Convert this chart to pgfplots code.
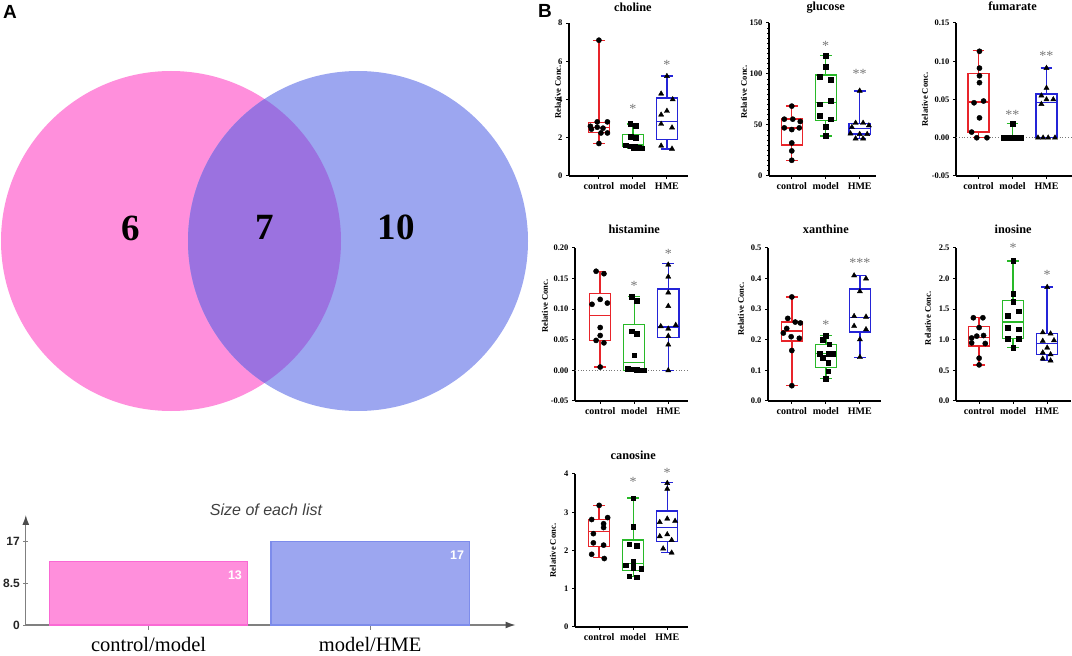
\documentclass[border=0pt]{standalone}
\usepackage{fontspec}
\setmainfont{Liberation Serif}
\newfontfamily\arial{Liberation Sans}
\usepackage{pgfplots}
\pgfplotsset{compat=1.18}
\usepgfplotslibrary{statistics}
\usetikzlibrary{arrows.meta}

\definecolor{pinkV}{RGB}{255,143,220}
\definecolor{blueV}{RGB}{156,166,240}
\definecolor{overV}{RGB}{155,114,224}
\definecolor{pinkE}{RGB}{250,105,212}
\definecolor{blueE}{RGB}{125,140,235}
\definecolor{redB}{RGB}{232,36,42}
\definecolor{greenB}{RGB}{40,185,40}
\definecolor{blueB}{RGB}{36,36,215}
\definecolor{starC}{RGB}{120,120,120}

\pgfplotsset{
  bx/.style={
    scale only axis, height=153pt, anchor=south west,
    axis x line=bottom, axis y line=left,
    axis line style={-, line width=1.1pt},
    tick style={black, line width=1pt},
    tick align=outside, major tick length=3pt,
    xtick={1,2,3}, xticklabels={control,model,HME},
    x tick label style={font=\fontsize{10}{10}\selectfont\bfseries},
    y tick label style={font=\fontsize{8.5}{8.5}\selectfont\bfseries},
    every axis title/.style={at={(0.5,1)}, anchor=base, font=\fontsize{12.3}{12.3}\selectfont\bfseries},
    clip=false, enlargelimits=false,
    boxplot/draw direction=y,
    boxplot/box extend=0.62, boxplot/whisker extend=0.35,
  },
  ptC/.style={only marks, mark=*, mark size=2.6pt, black},
  ptS/.style={only marks, mark=square*, mark size=2.3pt, black},
  ptT/.style={only marks, mark=triangle*, mark size=3pt, black},
}
% colour, position, lower whisker, lower quartile, median, upper quartile, upper whisker
\newcommand{\bp}[7]{\addplot[#1, line width=1.4pt, boxplot prepared={draw position=#2,
  lower whisker=#3, lower quartile=#4, median=#5, upper quartile=#6, upper whisker=#7}] coordinates {};}
\newcommand{\st}[3]{\node[font=\fontsize{14}{14}\selectfont, text=starC, inner sep=0pt] at (axis cs:#1,#2) {#3};}
% y axis title: distance left of the axis line, relative height
\newcommand{\yl}[2]{\node[rotate=90, inner sep=0pt, font=\fontsize{8.6}{8.6}\selectfont\bfseries]
  at ([xshift=-#1]rel axis cs:0,#2) {Relative Conc.};}

\begin{document}
\begin{tikzpicture}
\path[use as bounding box] (0,0) rectangle (1072pt,656pt);

% ---------------- panel A: Venn diagram
\node[font=\arial\bfseries\fontsize{19}{19}\selectfont] at (10pt,644pt) {A};
\begin{axis}[at={(0pt,196pt)}, anchor=south west, scale only axis,
  width=540pt, height=460pt, xmin=0, xmax=540, ymin=0, ymax=460,
  y dir=reverse, hide axis, clip=false]
  \fill[pinkV] (axis cs:171,241) circle[radius=170pt];
  \fill[blueV] (axis cs:358,241) circle[radius=170pt];
  \begin{scope}
    \clip (axis cs:171,241) circle[radius=170pt];
    \fill[overV] (axis cs:358,241) circle[radius=170pt];
  \end{scope}
  \node[font=\fontsize{37}{37}\selectfont\bfseries] at (axis cs:131,228) {6};
  \node[font=\fontsize{37}{37}\selectfont\bfseries] at (axis cs:265,227) {7};
  \node[font=\fontsize{37}{37}\selectfont\bfseries] at (axis cs:396,227) {10};
\end{axis}

% ---------------- panel A: list sizes
\node[font=\arial\itshape\fontsize{16}{16}\selectfont, text=black!75] at (266pt,146pt) {Size of each list};
\begin{axis}[at={(25.8pt,31pt)}, anchor=south west, scale only axis,
  width=489.7pt, height=110pt,
  xmin=25.8, xmax=515.5, ymin=0, ymax=22.4,
  axis x line=bottom, axis y line=left,
  axis line style={draw=gray, line width=1.3pt, -{Latex[length=10pt,width=7pt,color=black!70]}},
  xtick={148.6,370.2}, xticklabels={control/model,model/HME},
  ytick={0,8.5,17}, yticklabels={0,8.5,17},
  tick style={draw=gray, line width=0.8pt}, major tick length=5pt, tick align=center,
  x tick label style={font=\fontsize{20.5}{20.5}\selectfont, yshift=-4pt},
  y tick label style={font=\arial\bfseries\fontsize{12}{12}\selectfont, text=black!85},
  ybar, bar width=198.5pt, clip=false]
  \addplot[fill=pinkV, draw=pinkE, line width=1.2pt, bar shift=0pt] coordinates {(148.6,13)};
  \addplot[fill=blueV, draw=blueE, line width=1.2pt, bar shift=0pt] coordinates {(370.2,17)};
  \node[font=\arial\bfseries\fontsize{12.5}{12.5}\selectfont, text=white] at (axis cs:235,10.2) {13};
  \node[font=\arial\bfseries\fontsize{12.5}{12.5}\selectfont, text=white] at (axis cs:457,14.3) {17};
\end{axis}

% ---------------- panel B
\node[font=\arial\bfseries\fontsize{19}{19}\selectfont] at (545pt,645pt) {B};

% choline
\begin{axis}[bx, at={(569pt,480pt)}, width=119pt, xmin=0.12, xmax=3.62,
  ymin=0, ymax=8, ytick={0,2,4,6,8}, yticklabels={0,2,4,6,8},
  title={choline}, title style={at={(0.537,1)}, yshift=12pt}]
  \bp{redB}{1}{1.7}{2.28}{2.53}{2.8}{7.1}
  \bp{greenB}{2}{1.44}{1.55}{1.62}{2.18}{2.72}
  \bp{blueB}{3}{1.42}{1.92}{2.85}{4.07}{5.22}
  \addplot[ptC] coordinates {(1,7.1) (0.95,2.83) (1.25,2.83) (0.75,2.6) (0.95,2.55) (1.12,2.5) (0.78,2.45) (1.06,2.25) (1.25,2.25) (1,1.7)};
  \addplot[ptS] coordinates {(1.92,2.72) (2.08,2.62) (1.93,2.05) (2.08,2.0) (1.78,1.6) (1.93,1.55) (2.07,1.52) (2.18,1.48) (2.25,1.46) (2.02,1.45)};
  \addplot[ptT] coordinates {(3,5.22) (2.83,4.3) (3.17,4.0) (3,3.4) (2.83,3.2) (2.83,2.72) (3.15,2.53) (2.83,1.58) (3.15,1.42)};
  \st{2}{3.5}{*}
  \st{3}{5.83}{*}
  \yl{11pt}{0.55}
\end{axis}

% glucose
\begin{axis}[bx, at={(769pt,480pt)}, width=107pt, xmin=0.33, xmax=3.48,
  ymin=0, ymax=150, ytick={0,50,100,150}, yticklabels={0,50,100,150},
  minor y tick num=9, minor tick length=2pt,
  title={glucose}, title style={at={(0.53,1)}, yshift=12pt}]
  \bp{redB}{1}{15.4}{30.5}{47.2}{55.7}{68.5}
  \bp{greenB}{2}{39.3}{54.7}{72.1}{99.2}{118}
  \bp{blueB}{3}{36.5}{41}{46.5}{51.4}{83.5}
  \addplot[ptC] coordinates {(1,68.5) (0.78,55.7) (1.03,55.7) (1.25,53.4) (0.78,47.2) (1.22,47.2) (1,45.5) (1,32.4) (1,24.6) (1,15.4)};
  \addplot[ptS] coordinates {(2,118) (2,107) (1.83,97.6) (2.15,94.3) (2.15,74) (1.83,70.4) (1.83,58.9) (2.15,55.7) (2,48.1) (2,39.3)};
  \addplot[ptT] coordinates {(3,83.5) (2.88,52) (3.1,52) (3.27,49.5) (2.77,47.8) (2.73,41.6) (3,41) (3.22,41) (2.88,36.7) (3.1,36.7)};
  \st{2}{127.7}{*}
  \st{3}{100.5}{**}
  \yl{25pt}{0.55}
\end{axis}

% fumarate
\begin{axis}[bx, at={(956pt,480pt)}, width=116pt, xmin=0.34, xmax=3.75,
  ymin=-0.05, ymax=0.15, ytick={-0.05,0,0.05,0.1,0.15}, yticklabels={-0.05,0.00,0.05,0.10,0.15},
  title={fumarate}, title style={at={(0.487,1)}, yshift=12pt}]
  \addplot[starC, dotted, line width=0.8pt] coordinates {(0.34,0) (3.75,0)};
  \bp{redB}{1}{0}{0.0074}{0.0465}{0.0839}{0.1139}
  \bp{greenB}{2}{0}{0}{0}{0}{0.0187}
  \bp{blueB}{3}{0}{0}{0.0457}{0.0574}{0.0913}
  \addplot[ptC] coordinates {(1.03,0.113) (1.03,0.091) (1.03,0.081) (1.03,0.072) (0.87,0.0457) (1.15,0.048) (1.03,0.026) (0.8,0.0074) (0.95,0) (1.25,0)};
  \addplot[ptS] coordinates {(2,0.0187) (1.75,0) (1.85,0) (1.95,0) (2.05,0) (2.15,0) (2.25,0)};
  \addplot[ptT] coordinates {(3,0.091) (3,0.065) (2.85,0.055) (3,0.05) (3.2,0.05) (2.85,0.044) (2.75,0) (2.9,0) (3.05,0) (3.25,0)};
  \st{2}{0.0304}{**}
  \st{3}{0.1065}{**}
  \yl{31pt}{0.5}
\end{axis}

% histamine
\begin{axis}[bx, at={(575pt,255pt)}, width=113pt, xmin=0.26, xmax=3.58,
  ymin=-0.05, ymax=0.2, ytick={-0.05,0,0.05,0.1,0.15,0.2}, yticklabels={-0.05,0.00,0.05,0.10,0.15,0.20},
  title={histamine}, title style={at={(0.524,1)}, yshift=14.5pt}]
  \addplot[starC, dotted, line width=0.8pt] coordinates {(0.26,0) (3.58,0)};
  \bp{redB}{1}{0.0055}{0.049}{0.090}{0.126}{0.162}
  \bp{greenB}{2}{0}{0}{0.013}{0.075}{0.1205}
  \bp{blueB}{3}{0}{0.054}{0.0712}{0.133}{0.175}
  \addplot[ptC] coordinates {(0.88,0.162) (1.11,0.158) (1,0.116) (0.76,0.108) (1.21,0.11) (1,0.07) (1,0.057) (0.88,0.049) (1.11,0.045) (1,0.0055)};
  \addplot[ptS] coordinates {(1.93,0.12) (2.07,0.114) (1.93,0.064) (2.07,0.06) (2,0.025) (1.8,0.003) (1.93,0.002) (2.07,0.001) (2.17,0.0005) (2.28,0.0005)};
  \addplot[ptT] coordinates {(3,0.1726) (3,0.153) (3,0.127) (3,0.105) (2.78,0.072) (3.22,0.074) (3,0.068) (3,0.056) (3,0.042) (3,0)};
  \st{2}{0.138}{*}
  \st{3}{0.19}{*}
  \yl{30pt}{0.62}
\end{axis}

% xanthine
\begin{axis}[bx, at={(768pt,255pt)}, width=113pt, xmin=0.30, xmax=3.62,
  ymin=0, ymax=0.5, ytick={0,0.1,0.2,0.3,0.4,0.5}, yticklabels={0.0,0.1,0.2,0.3,0.4,0.5},
  title={xanthine}, title style={at={(0.512,1)}, yshift=14.5pt}]
  \bp{redB}{1}{0.05}{0.196}{0.229}{0.258}{0.34}
  \bp{greenB}{2}{0.073}{0.109}{0.155}{0.185}{0.214}
  \bp{blueB}{3}{0.143}{0.226}{0.272}{0.366}{0.41}
  \addplot[ptC] coordinates {(1,0.34) (0.88,0.27) (1.1,0.258) (1.25,0.255) (0.85,0.237) (0.75,0.222) (0.98,0.21) (1.22,0.205) (1,0.165) (1,0.05)};
  \addplot[ptS] coordinates {(2,0.214) (1.9,0.2) (2.1,0.185) (1.82,0.155) (2.07,0.155) (2.22,0.155) (1.9,0.141) (2.07,0.125) (2.07,0.098) (2,0.073)};
  \addplot[ptT] coordinates {(2.83,0.41) (3.18,0.4) (3,0.358) (2.83,0.277) (3.18,0.275) (2.83,0.245) (3.18,0.234) (3,0.201) (3,0.143)};
  \st{2}{0.247}{*}
  \st{3}{0.451}{***}
  \yl{27pt}{0.6}
\end{axis}

% inosine
\begin{axis}[bx, at={(956pt,255pt)}, width=115pt, xmin=0.32, xmax=3.70,
  ymin=0, ymax=2.5, ytick={0,0.5,1,1.5,2,2.5}, yticklabels={0.0,0.5,1.0,1.5,2.0,2.5},
  title={inosine}, title style={at={(0.497,1)}, yshift=14.5pt}]
  \bp{redB}{1}{0.587}{0.90}{1.04}{1.22}{1.36}
  \bp{greenB}{2}{0.87}{1.02}{1.29}{1.64}{2.29}
  \bp{blueB}{3}{0.66}{0.76}{0.935}{1.10}{1.86}
  \addplot[ptC] coordinates {(0.83,1.36) (1.11,1.36) (1,1.2) (0.78,1.03) (0.93,1.06) (1.13,1.07) (0.78,0.95) (1.18,0.94) (1,0.7) (1,0.59)};
  \addplot[ptS] coordinates {(2,2.29) (2,1.75) (2,1.62) (2.17,1.47) (1.84,1.39) (1.84,1.2) (2.17,1.17) (1.84,1.02) (2.17,1.02) (2,0.87)};
  \addplot[ptT] coordinates {(3,1.86) (2.87,1.12) (3.1,1.1) (3.2,0.99) (2.87,0.98) (3,0.87) (2.87,0.79) (3.1,0.76) (2.87,0.69) (3.1,0.66)};
  \st{2}{2.5}{*}
  \st{3}{2.065}{*}
  \yl{28pt}{0.54}
\end{axis}

% canosine
\begin{axis}[bx, at={(575pt,29pt)}, width=113pt, xmin=0.29, xmax=3.61,
  ymin=0, ymax=4, ytick={0,1,2,3,4}, yticklabels={0,1,2,3,4},
  title={canosine}, title style={at={(0.515,1)}, yshift=14pt}]
  \bp{redB}{1}{1.81}{2.11}{2.5}{2.81}{3.18}
  \bp{greenB}{2}{1.32}{1.47}{1.66}{2.27}{3.37}
  \bp{blueB}{3}{1.94}{2.24}{2.6}{3.03}{3.78}
  \addplot[ptC] coordinates {(1,3.18) (0.78,2.81) (1.25,2.86) (1.13,2.7) (1.13,2.6) (0.83,2.44) (0.83,2.2) (1.13,2.14) (0.78,1.9) (1.15,1.79)};
  \addplot[ptS] coordinates {(2,3.37) (2,2.63) (1.88,2.16) (2.11,2.12) (2,1.7) (1.78,1.62) (2,1.55) (2.23,1.53) (1.88,1.33) (2.11,1.3)};
  \addplot[ptT] coordinates {(3,3.76) (3,3.61) (2.78,2.74) (3,2.83) (3.23,2.77) (2.78,2.37) (3,2.42) (3.13,2.27) (2.88,2.05) (3.13,1.94)};
  \st{2}{3.78}{*}
  \st{3}{4.02}{*}
  \yl{22pt}{0.5}
\end{axis}
\end{tikzpicture}
\end{document}
